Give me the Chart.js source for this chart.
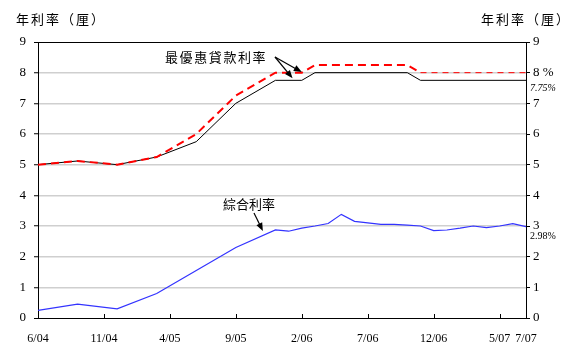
<!DOCTYPE html>
<html lang="zh-Hant">
<head>
    <meta charset="UTF-8">
    <title>最優惠貸款利率及綜合利率</title>
    <script src="https://cdn.jsdelivr.net/npm/chart.js"></script>
    <style>
        html, body { margin: 0; padding: 0; background: #fff; }
        #wrap { width: 564px; height: 352px; }
    </style>
</head>
<body>
    <div id="wrap"><canvas id="grafica" width="564" height="352"></canvas></div>

    <script>
        // months counted from 6/04 (0) to 7/07 (37)
        const xTickMonths = [0, 5, 10, 15, 20, 25, 30, 35, 37];
        const xTickLabels = ['6/04', '11/04', '4/05', '9/05', '2/06', '7/06', '12/06', '5/07', '7/07'];

        // prime rates
        const primeMonths = [0, 3, 6, 9, 12, 15, 18, 20, 21, 28, 29, 37];
        const primeHigh = [5.0, 5.12, 5.0, 5.25, 6.0, 7.25, 8.0, 8.0, 8.25, 8.25, 8.0, 8.0];
        const primeLow = [5.0, 5.12, 5.0, 5.25, 5.75, 7.0, 7.75, 7.75, 8.0, 8.0, 7.75, 7.75];

        // composite rate
        const compMonths = [0, 3, 6, 9, 12, 15, 18, 19, 20, 21, 22, 23, 24, 25, 26, 27, 28, 29, 30, 31, 32, 33, 34, 35, 36, 37];
        const compRate = [0.25, 0.45, 0.3, 0.8, 1.55, 2.3, 2.87, 2.83, 2.93, 3.0, 3.08, 3.38, 3.15, 3.1, 3.05, 3.05, 3.03, 3.0, 2.85, 2.87, 2.93, 3.0, 2.95, 3.0, 3.08, 2.98];

        function puntos(xs, ys) {
            return xs.map((m, i) => ({ x: m, y: ys[i] }));
        }

        const cjk = '"Noto Sans CJK TC", "Noto Sans CJK SC", sans-serif';
        const serif = '"Liberation Serif", "DejaVu Serif", serif';

        function flecha(ctx, x1, y1, x2, y2) {
            const ang = Math.atan2(y2 - y1, x2 - x1);
            const L = 8, W = 3.2;
            ctx.beginPath();
            ctx.moveTo(x1, y1);
            ctx.lineTo(x2 - Math.cos(ang) * L * 0.8, y2 - Math.sin(ang) * L * 0.8);
            ctx.stroke();
            ctx.beginPath();
            ctx.moveTo(x2, y2);
            ctx.lineTo(x2 - Math.cos(ang) * L - Math.sin(ang) * W, y2 - Math.sin(ang) * L + Math.cos(ang) * W);
            ctx.lineTo(x2 - Math.cos(ang) * L + Math.sin(ang) * W, y2 - Math.sin(ang) * L - Math.cos(ang) * W);
            ctx.closePath();
            ctx.fill();
        }

        const textos = {
            id: 'textos',
            afterDraw(chart) {
                const ctx = chart.ctx;
                const xs = chart.scales.x, ys = chart.scales.y;
                const area = chart.chartArea;
                ctx.save();

                // inward ticks on the x axis
                ctx.strokeStyle = '#000';
                ctx.lineWidth = 1;
                xTickMonths.forEach(m => {
                    const px = Math.round(xs.getPixelForValue(m)) + 0.5;
                    ctx.beginPath();
                    ctx.moveTo(px, area.bottom);
                    ctx.lineTo(px, area.bottom - 4);
                    ctx.stroke();
                });

                // axis titles
                ctx.fillStyle = '#000';
                ctx.textBaseline = 'middle';
                ctx.font = '13px ' + cjk;
                ctx.letterSpacing = '2px';
                ctx.textAlign = 'left';
                ctx.fillText('年利率（厘）', 16, 19);
                ctx.fillText('年利率（厘）', 481, 19);

                // annotations
                ctx.letterSpacing = '1.6px';
                ctx.fillText('最優惠貸款利率', 165, 57);
                ctx.letterSpacing = '0px';
                ctx.fillText('綜合利率', 223, 204);

                ctx.lineWidth = 1.2;
                flecha(ctx, 275, 57, xs.getPixelForValue(20.0), ys.getPixelForValue(8.02));
                flecha(ctx, 275, 57, xs.getPixelForValue(19.3), ys.getPixelForValue(7.82));
                flecha(ctx, 254, 213, xs.getPixelForValue(17.05), ys.getPixelForValue(2.84));

                // end values on the right
                ctx.font = 'italic 10px ' + serif;
                ctx.fillText('7.75%', area.right + 4, ys.getPixelForValue(7.75) + 8);
                ctx.font = '10px ' + serif;
                ctx.fillText('2.98%', area.right + 4, ys.getPixelForValue(2.98) + 10);
                ctx.restore();
            }
        };

        const colorGrid = c => (c.tick && (c.tick.value === 9 || c.tick.value === 0)) ? '#000' : '#cfcfcf';
        const anchoGrid = c => (c.tick && (c.tick.value === 9 || c.tick.value === 0)) ? 1 : 1.5;

        const grafica = new Chart(document.getElementById('grafica').getContext('2d'), {
            type: 'line',
            data: {
                datasets: [{
                    label: '最優惠貸款利率 (8%)',
                    data: puntos(primeMonths, primeHigh),
                    borderColor: '#ff0000',
                    borderWidth: 2,
                    borderDash: [8, 5],
                    segment: {
                        // thinner dashes once the rate is back at 8%
                        borderWidth: s => s.p0.parsed.x >= 29 ? 1 : 2,
                        borderDash: s => s.p0.parsed.x >= 29 ? [6, 5] : [8, 5]
                    },
                    pointRadius: 0,
                    tension: 0,
                    fill: false
                }, {
                    label: '最優惠貸款利率 (7.75%)',
                    data: puntos(primeMonths, primeLow),
                    borderColor: '#000000',
                    borderWidth: 1,
                    pointRadius: 0,
                    tension: 0,
                    fill: false
                }, {
                    label: '綜合利率',
                    data: puntos(compMonths, compRate),
                    borderColor: '#3333ff',
                    borderWidth: 1.2,
                    pointRadius: 0,
                    tension: 0,
                    fill: false
                }]
            },
            options: {
                responsive: false,
                animation: false,
                events: [],
                layout: { padding: { top: 42, left: 0, right: 0, bottom: 0 } },
                plugins: { legend: { display: false }, tooltip: { enabled: false } },
                scales: {
                    x: {
                        type: 'linear',
                        min: 0,
                        max: 37,
                        afterBuildTicks: s => { s.ticks = xTickMonths.map(v => ({ value: v })); },
                        afterFit: s => { s.height = 34; },
                        grid: { display: false },
                        border: { display: true, color: '#000', width: 1 },
                        ticks: {
                            autoSkip: false,
                            maxRotation: 0,
                            padding: 6,
                            color: '#000',
                            font: { family: serif, size: 12 },
                            callback: v => xTickLabels[xTickMonths.indexOf(v)]
                        }
                    },
                    y: {
                        position: 'left',
                        min: 0,
                        max: 9,
                        afterFit: s => { s.width = 38; },
                        border: { display: true, color: '#000', width: 1 },
                        grid: { color: colorGrid, lineWidth: anchoGrid, tickColor: '#000', tickLength: 4, tickWidth: 1 },
                        ticks: { stepSize: 1, padding: 8, color: '#000', font: { family: serif, size: 13 } }
                    },
                    y2: {
                        position: 'right',
                        min: 0,
                        max: 9,
                        afterFit: s => { s.width = 38; },
                        border: { display: true, color: '#000', width: 1 },
                        grid: { drawOnChartArea: false, tickColor: '#000', tickLength: 4, tickWidth: 1 },
                        ticks: {
                            stepSize: 1,
                            padding: 3,
                            color: '#000',
                            font: { family: serif, size: 13 },
                            callback: v => v === 8 ? '8 %' : v
                        }
                    }
                }
            },
            plugins: [textos]
        });
    </script>
</body>
</html>
